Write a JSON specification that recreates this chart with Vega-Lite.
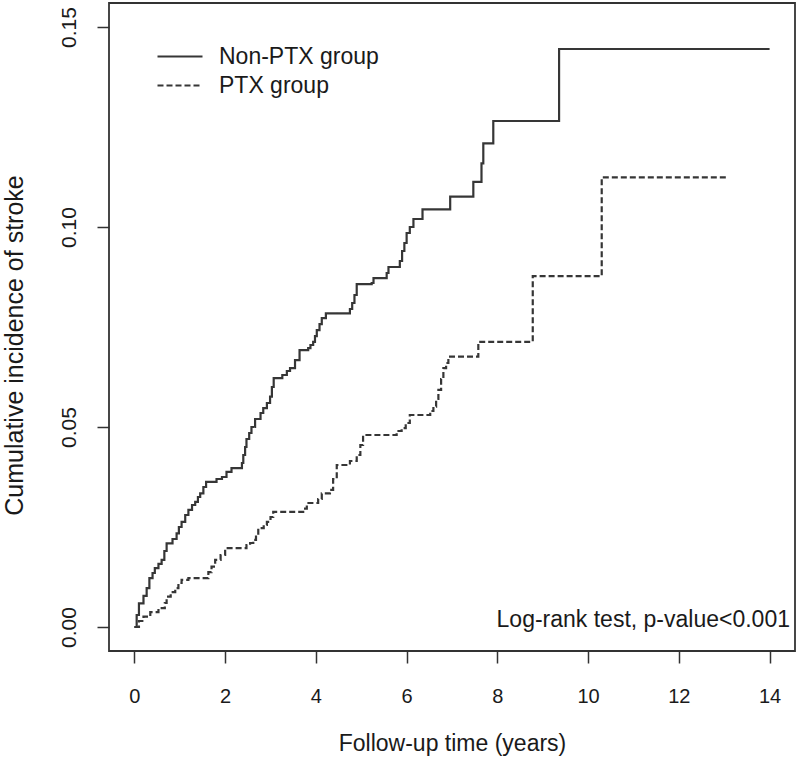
{
  "$schema": "https://vega.github.io/schema/vega-lite/v6.json",
  "width": 686,
  "height": 648,
  "autosize": {"type": "none"},
  "padding": {"left": 109, "top": 3, "right": 5, "bottom": 114},
  "background": "white",
  "config": {
    "font": "Liberation Sans",
    "view": {"stroke": "#333333", "strokeWidth": 1.8},
    "axis": {
      "domain": false,
      "grid": false,
      "ticks": true,
      "tickColor": "#333333",
      "tickWidth": 1.5,
      "tickSize": 12,
      "labelFont": "Liberation Sans",
      "labelFontSize": 20,
      "labelColor": "#1a1a1a",
      "titleFont": "Liberation Sans",
      "titleFontSize": 23,
      "titleFontWeight": "normal",
      "titleColor": "#1a1a1a"
    }
  },
  "layer": [
    {
      "data": {
        "values": [
          {"group": "Non-PTX group", "time": 0, "inc": 0},
          {"group": "Non-PTX group", "time": 0.05, "inc": 0.003},
          {"group": "Non-PTX group", "time": 0.1, "inc": 0.0059},
          {"group": "Non-PTX group", "time": 0.2, "inc": 0.0078},
          {"group": "Non-PTX group", "time": 0.27, "inc": 0.0097},
          {"group": "Non-PTX group", "time": 0.33, "inc": 0.0122},
          {"group": "Non-PTX group", "time": 0.4, "inc": 0.0135},
          {"group": "Non-PTX group", "time": 0.45, "inc": 0.0147},
          {"group": "Non-PTX group", "time": 0.53, "inc": 0.0158},
          {"group": "Non-PTX group", "time": 0.6, "inc": 0.0168},
          {"group": "Non-PTX group", "time": 0.66, "inc": 0.019},
          {"group": "Non-PTX group", "time": 0.71, "inc": 0.0209},
          {"group": "Non-PTX group", "time": 0.84, "inc": 0.022},
          {"group": "Non-PTX group", "time": 0.93, "inc": 0.0234},
          {"group": "Non-PTX group", "time": 0.98, "inc": 0.025},
          {"group": "Non-PTX group", "time": 1.04, "inc": 0.0263},
          {"group": "Non-PTX group", "time": 1.12, "inc": 0.028},
          {"group": "Non-PTX group", "time": 1.19, "inc": 0.0293},
          {"group": "Non-PTX group", "time": 1.27, "inc": 0.0305},
          {"group": "Non-PTX group", "time": 1.34, "inc": 0.0313},
          {"group": "Non-PTX group", "time": 1.4, "inc": 0.0325},
          {"group": "Non-PTX group", "time": 1.45, "inc": 0.0334},
          {"group": "Non-PTX group", "time": 1.52, "inc": 0.035},
          {"group": "Non-PTX group", "time": 1.58, "inc": 0.0363},
          {"group": "Non-PTX group", "time": 1.81, "inc": 0.037},
          {"group": "Non-PTX group", "time": 1.93, "inc": 0.0375},
          {"group": "Non-PTX group", "time": 2.03, "inc": 0.0388},
          {"group": "Non-PTX group", "time": 2.14, "inc": 0.0397},
          {"group": "Non-PTX group", "time": 2.37, "inc": 0.041},
          {"group": "Non-PTX group", "time": 2.4, "inc": 0.043},
          {"group": "Non-PTX group", "time": 2.44, "inc": 0.045},
          {"group": "Non-PTX group", "time": 2.47, "inc": 0.047},
          {"group": "Non-PTX group", "time": 2.53, "inc": 0.0485},
          {"group": "Non-PTX group", "time": 2.58, "inc": 0.05},
          {"group": "Non-PTX group", "time": 2.66, "inc": 0.052},
          {"group": "Non-PTX group", "time": 2.78, "inc": 0.0535},
          {"group": "Non-PTX group", "time": 2.84, "inc": 0.0547},
          {"group": "Non-PTX group", "time": 2.92, "inc": 0.056},
          {"group": "Non-PTX group", "time": 2.99, "inc": 0.0576},
          {"group": "Non-PTX group", "time": 3.03, "inc": 0.06},
          {"group": "Non-PTX group", "time": 3.07, "inc": 0.0622},
          {"group": "Non-PTX group", "time": 3.26, "inc": 0.063},
          {"group": "Non-PTX group", "time": 3.36, "inc": 0.064},
          {"group": "Non-PTX group", "time": 3.43, "inc": 0.0647},
          {"group": "Non-PTX group", "time": 3.54, "inc": 0.0667},
          {"group": "Non-PTX group", "time": 3.64, "inc": 0.0692},
          {"group": "Non-PTX group", "time": 3.83, "inc": 0.0697},
          {"group": "Non-PTX group", "time": 3.88, "inc": 0.0705},
          {"group": "Non-PTX group", "time": 3.94, "inc": 0.0713},
          {"group": "Non-PTX group", "time": 3.98, "inc": 0.0727},
          {"group": "Non-PTX group", "time": 4.02, "inc": 0.0742},
          {"group": "Non-PTX group", "time": 4.08, "inc": 0.0757},
          {"group": "Non-PTX group", "time": 4.13, "inc": 0.0772},
          {"group": "Non-PTX group", "time": 4.22, "inc": 0.0784},
          {"group": "Non-PTX group", "time": 4.75, "inc": 0.0795},
          {"group": "Non-PTX group", "time": 4.8, "inc": 0.081},
          {"group": "Non-PTX group", "time": 4.85, "inc": 0.083},
          {"group": "Non-PTX group", "time": 4.9, "inc": 0.0857},
          {"group": "Non-PTX group", "time": 5.23, "inc": 0.086},
          {"group": "Non-PTX group", "time": 5.27, "inc": 0.0872},
          {"group": "Non-PTX group", "time": 5.56, "inc": 0.0885},
          {"group": "Non-PTX group", "time": 5.6, "inc": 0.09},
          {"group": "Non-PTX group", "time": 5.85, "inc": 0.0915},
          {"group": "Non-PTX group", "time": 5.9, "inc": 0.094},
          {"group": "Non-PTX group", "time": 5.95, "inc": 0.096},
          {"group": "Non-PTX group", "time": 6.0, "inc": 0.0985},
          {"group": "Non-PTX group", "time": 6.07, "inc": 0.1},
          {"group": "Non-PTX group", "time": 6.15, "inc": 0.102},
          {"group": "Non-PTX group", "time": 6.35, "inc": 0.1044},
          {"group": "Non-PTX group", "time": 6.96, "inc": 0.1076},
          {"group": "Non-PTX group", "time": 7.47, "inc": 0.1113},
          {"group": "Non-PTX group", "time": 7.65, "inc": 0.1159},
          {"group": "Non-PTX group", "time": 7.69, "inc": 0.1209},
          {"group": "Non-PTX group", "time": 7.91, "inc": 0.1265},
          {"group": "Non-PTX group", "time": 9.36, "inc": 0.1445},
          {"group": "Non-PTX group", "time": 14.0, "inc": 0.1445},
          {"group": "PTX group", "time": 0, "inc": 0},
          {"group": "PTX group", "time": 0.1, "inc": 0.0015},
          {"group": "PTX group", "time": 0.2, "inc": 0.0026},
          {"group": "PTX group", "time": 0.35, "inc": 0.0037},
          {"group": "PTX group", "time": 0.53, "inc": 0.0047},
          {"group": "PTX group", "time": 0.67, "inc": 0.006},
          {"group": "PTX group", "time": 0.71, "inc": 0.0076},
          {"group": "PTX group", "time": 0.8, "inc": 0.0087},
          {"group": "PTX group", "time": 0.9, "inc": 0.0097},
          {"group": "PTX group", "time": 0.97, "inc": 0.011},
          {"group": "PTX group", "time": 1.04, "inc": 0.0118},
          {"group": "PTX group", "time": 1.19, "inc": 0.0122},
          {"group": "PTX group", "time": 1.63, "inc": 0.0137},
          {"group": "PTX group", "time": 1.7, "inc": 0.0151},
          {"group": "PTX group", "time": 1.78, "inc": 0.0168},
          {"group": "PTX group", "time": 1.9, "inc": 0.018},
          {"group": "PTX group", "time": 2.0, "inc": 0.0197},
          {"group": "PTX group", "time": 2.47, "inc": 0.0205},
          {"group": "PTX group", "time": 2.55, "inc": 0.021},
          {"group": "PTX group", "time": 2.62, "inc": 0.0218},
          {"group": "PTX group", "time": 2.68, "inc": 0.023},
          {"group": "PTX group", "time": 2.73, "inc": 0.0247},
          {"group": "PTX group", "time": 2.85, "inc": 0.0255},
          {"group": "PTX group", "time": 2.92, "inc": 0.0263},
          {"group": "PTX group", "time": 3.0, "inc": 0.0275},
          {"group": "PTX group", "time": 3.06, "inc": 0.0288},
          {"group": "PTX group", "time": 3.72, "inc": 0.0296},
          {"group": "PTX group", "time": 3.8, "inc": 0.031},
          {"group": "PTX group", "time": 4.05, "inc": 0.032},
          {"group": "PTX group", "time": 4.13, "inc": 0.0334},
          {"group": "PTX group", "time": 4.31, "inc": 0.0343},
          {"group": "PTX group", "time": 4.38, "inc": 0.037},
          {"group": "PTX group", "time": 4.46, "inc": 0.0405},
          {"group": "PTX group", "time": 4.75, "inc": 0.0415},
          {"group": "PTX group", "time": 4.9, "inc": 0.043},
          {"group": "PTX group", "time": 4.98, "inc": 0.0455},
          {"group": "PTX group", "time": 5.04, "inc": 0.048},
          {"group": "PTX group", "time": 5.78, "inc": 0.049},
          {"group": "PTX group", "time": 5.89, "inc": 0.0497},
          {"group": "PTX group", "time": 5.98, "inc": 0.051},
          {"group": "PTX group", "time": 6.07, "inc": 0.053},
          {"group": "PTX group", "time": 6.52, "inc": 0.054},
          {"group": "PTX group", "time": 6.59, "inc": 0.0551},
          {"group": "PTX group", "time": 6.65, "inc": 0.057},
          {"group": "PTX group", "time": 6.7, "inc": 0.0593},
          {"group": "PTX group", "time": 6.76, "inc": 0.062},
          {"group": "PTX group", "time": 6.81, "inc": 0.0647},
          {"group": "PTX group", "time": 6.87, "inc": 0.066},
          {"group": "PTX group", "time": 6.92, "inc": 0.0676},
          {"group": "PTX group", "time": 7.58, "inc": 0.0713},
          {"group": "PTX group", "time": 8.78, "inc": 0.0877},
          {"group": "PTX group", "time": 10.3, "inc": 0.1124},
          {"group": "PTX group", "time": 13.05, "inc": 0.1124}
        ]
      },
      "mark": {"type": "line", "interpolate": "step-after", "strokeWidth": 2.2, "color": "#363636"},
      "encoding": {
        "x": {
          "field": "time", "type": "quantitative",
          "scale": {"domain": [-0.56, 14.56], "nice": false, "zero": false},
          "axis": {"values": [0, 2, 4, 6, 8, 10, 12, 14], "title": "Follow-up time (years)", "labelPadding": 23, "titlePadding": 26}
        },
        "y": {
          "field": "inc", "type": "quantitative",
          "scale": {"domain": [-0.006, 0.156], "nice": false, "zero": false},
          "axis": {"values": [0, 0.05, 0.1, 0.15], "format": ".2f", "labelAngle": -90, "labelAlign": "center", "labelBaseline": "bottom", "labelFontSize": 21, "labelPadding": 18, "title": "Cumulative incidence of stroke", "titleFontSize": 25, "titlePadding": 31, "titleY": 342}
        },
        "strokeDash": {
          "field": "group", "type": "nominal",
          "scale": {"domain": ["Non-PTX group", "PTX group"], "range": [[1, 0], [6, 3]]},
          "legend": {
            "title": null,
            "orient": "none",
            "legendX": 46,
            "legendY": 42,
            "symbolType": "M-1,0H4",
            "symbolSize": 324,
            "symbolStrokeWidth": 1.8,
            "symbolStrokeColor": "#363636",
            "symbolFillColor": "transparent",
            "labelFontSize": 23,
            "labelFont": "Liberation Sans",
            "labelColor": "#1a1a1a",
            "labelOffset": 41,
            "rowPadding": 5
          }
        }
      }
    },
    {
      "data": {"values": [{"label": "Log-rank test, p-value<0.001"}]},
      "mark": {"type": "text", "align": "right", "baseline": "alphabetic", "fontSize": 23, "font": "Liberation Sans", "color": "#1a1a1a"},
      "encoding": {
        "x": {"datum": 14.45, "type": "quantitative"},
        "y": {"datum": 0, "type": "quantitative"},
        "text": {"field": "label"}
      }
    }
  ]
}
